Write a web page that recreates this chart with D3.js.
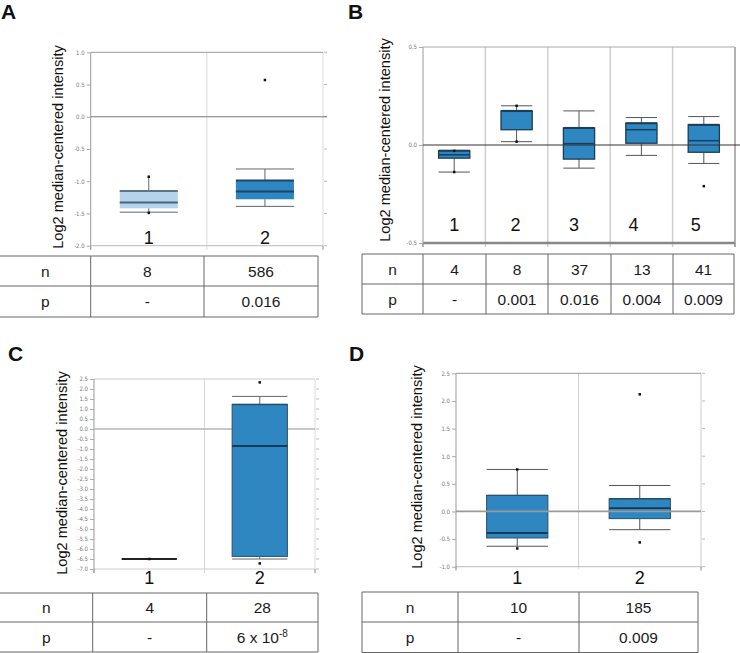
<!DOCTYPE html>
<html>
<head>
<meta charset="utf-8">
<script src="https://cdnjs.cloudflare.com/ajax/libs/d3/7.8.5/d3.min.js"></script>
<style>
  html, body { margin: 0; padding: 0; background: #fff; }
  svg { display: block; font-family: "Liberation Sans", Arial, Helvetica, sans-serif; }
</style>
</head>
<body>
<svg id="chart" width="740" height="653"></svg>
<script>
// ---------- DATA ----------
const panelLetters = ["A", "B", "C", "D"];
const yAxisTitle = "Log2 median-centered intensity";
const rowHeaders = ["n", "p"];

// Panel A
const aGroups = ["1", "2"];
const aLow = [-1.48, -1.39];
const aQ1 = [-1.42, -1.28];
const aMedian = [-1.33, -1.16];
const aQ3 = [-1.15, -0.99];
const aHigh = [-0.93, -0.81];
const aPoints = [[-0.93, -1.49], [0.57]];
const aTicks = [1.0, 0.5, 0.0, -0.5, -1.0, -1.5, -2.0];
const aN = ["8", "586"];
const aP = ["-", "0.016"];

// Panel B
const bGroups = ["1", "2", "3", "4", "5"];
const bLow = [-0.138, 0.017, -0.118, -0.053, -0.094];
const bQ1 = [-0.067, 0.078, -0.072, 0.009, -0.037];
const bMedian = [-0.05, 0.172, 0.007, 0.078, 0.022];
const bQ3 = [-0.029, 0.174, 0.087, 0.111, 0.103];
const bHigh = [-0.029, 0.2, 0.174, 0.14, 0.145];
const bPoints = [[-0.03, -0.138], [0.2, 0.017], [], [], [-0.21]];
const bTicks = [0.5, 0.0, -0.5];
const bN = ["4", "8", "37", "13", "41"];
const bP = ["-", "0.001", "0.016", "0.004", "0.009"];

// Panel C
const cGroups = ["1", "2"];
const cLow = [-6.5, -6.5];
const cQ1 = [-6.5, -6.37];
const cMedian = [-6.5, -0.85];
const cQ3 = [-6.5, 1.23];
const cHigh = [-6.5, 1.63];
const cPoints = [[-6.5], [2.33, -6.72]];
const cTicks = [2.5, 2.0, 1.5, 1.0, 0.5, 0.0, -0.5, -1.0, -1.5, -2.0, -2.5, -3.0, -3.5, -4.0, -4.5, -5.0, -5.5, -6.0, -6.5, -7.0];
const cN = ["4", "28"];
const cP = ["-", "6 x 10^-8"];

// Panel D
const dGroups = ["1", "2"];
const dLow = [-0.63, -0.33];
const dQ1 = [-0.48, -0.13];
const dMedian = [-0.39, 0.06];
const dQ3 = [0.29, 0.23];
const dHigh = [0.76, 0.47];
const dPoints = [[0.76, -0.67], [2.12, -0.56]];
const dTicks = [2.5, 2.0, 1.5, 1.0, 0.5, 0.0, -0.5, -1.0];
const dN = ["10", "185"];
const dP = ["-", "0.009"];

// ---------- DRAWING ----------
const svg = d3.select("#chart");
const fmt = v => d3.format(".1f")(v).replace("\u2212", "-");

function buildBoxes(groups, low, q1, med, q3, high, pts) {
  return groups.map((g, i) => ({ g, low: low[i], q1: q1[i], med: med[i], q3: q3[i], high: high[i], pts: pts[i] }));
}

function drawPanel(cfg) {
  const g = svg.append("g");
  const x = d3.scaleBand().domain(cfg.groups).range([cfg.x0, cfg.x1]).paddingInner(0).paddingOuter(0);
  const y = d3.scaleLinear().domain(cfg.domain).range([cfg.yBot, cfg.yTop]);
  const bw = x.bandwidth() * 0.5;
  const boxes = cfg.boxes;

  // panel letter
  g.append("text").attr("x", cfg.letterX).attr("y", cfg.letterY)
    .attr("font-size", 21).attr("font-weight", "bold").attr("fill", "#111").text(cfg.letter);

  // column separators
  cfg.groups.slice(1).forEach(d => {
    g.append("line").attr("x1", x(d)).attr("x2", x(d))
      .attr("y1", cfg.yTop).attr("y2", cfg.yBot + cfg.sepExt)
      .attr("stroke", cfg.sepColor).attr("stroke-width", cfg.sepWidth);
  });
  // right border
  g.append("line").attr("x1", cfg.x1).attr("x2", cfg.x1).attr("y1", cfg.yTop).attr("y2", cfg.yBot + cfg.sepExt)
    .attr("stroke", cfg.rightColor).attr("stroke-width", cfg.sepWidth);
  // top border
  g.append("line").attr("x1", cfg.x0).attr("x2", cfg.x1).attr("y1", cfg.yTop).attr("y2", cfg.yTop)
    .attr("stroke", cfg.topColor).attr("stroke-width", 1);
  // bottom border
  g.append("line").attr("x1", cfg.x0).attr("x2", cfg.x1).attr("y1", cfg.yBot).attr("y2", cfg.yBot)
    .attr("stroke", cfg.bottomColor).attr("stroke-width", cfg.bottomWidth);
  // right ticks
  if (cfg.rightTicks) {
    cfg.ticks.forEach(t => {
      g.append("line").attr("x1", cfg.x1 + 1).attr("x2", cfg.x1 + 4).attr("y1", y(t)).attr("y2", y(t))
        .attr("stroke", "#bbb").attr("stroke-width", 1);
    });
  }
  // bottom ticks
  [cfg.x0, cfg.x1].forEach(xx => {
    g.append("line").attr("x1", xx).attr("x2", xx).attr("y1", cfg.yBot).attr("y2", cfg.yBot + 4)
      .attr("stroke", "#999").attr("stroke-width", 1);
  });

  // left axis
  const axis = d3.axisLeft(y).tickValues(cfg.ticks).tickFormat(fmt).tickSize(4).tickPadding(2);
  const ag = g.append("g").attr("transform", `translate(${cfg.x0},0)`).call(axis);
  ag.select(".domain").attr("stroke", "#999").attr("d", `M-0,${cfg.yTop}V${cfg.yBot + cfg.sepExt}`);
  ag.selectAll(".tick line").attr("stroke", "#aaa");
  ag.selectAll(".tick text").attr("font-size", 6).attr("fill", "#777")
    .attr("font-family", "'DejaVu Sans Condensed', 'Liberation Sans Narrow', sans-serif");

  // y title
  g.append("text")
    .attr("transform", `translate(${cfg.titleX},${cfg.titleY}) rotate(-90)`)
    .attr("text-anchor", "middle").attr("font-size", 14.6).attr("fill", "#111").text(yAxisTitle);

  const drawZero = () => {
    g.append("line").attr("x1", cfg.x0).attr("x2", cfg.zeroX2).attr("y1", y(0)).attr("y2", y(0))
      .attr("stroke", cfg.zeroColor).attr("stroke-width", cfg.zeroWidth);
  };
  if (!cfg.zeroOnTop) drawZero();

  // boxes
  boxes.forEach((b, i) => {
    const cx = x(b.g) + x.bandwidth() / 2;
    const fill = cfg.fills[i];
    const edge = cfg.edges[i];
    // whiskers
    if (b.high > b.q3) {
      g.append("line").attr("x1", cx).attr("x2", cx).attr("y1", y(b.q3)).attr("y2", y(b.high))
        .attr("stroke", cfg.whiskerColor).attr("stroke-width", 1);
      if (!(cfg.noCapHigh || []).includes(i)) {
        g.append("line").attr("x1", cx - bw / 2).attr("x2", cx + bw / 2).attr("y1", y(b.high)).attr("y2", y(b.high))
          .attr("stroke", cfg.whiskerColor).attr("stroke-width", 1);
      }
    }
    if (b.low < b.q1) {
      g.append("line").attr("x1", cx).attr("x2", cx).attr("y1", y(b.q1)).attr("y2", y(b.low))
        .attr("stroke", cfg.whiskerColor).attr("stroke-width", 1);
      g.append("line").attr("x1", cx - bw / 2).attr("x2", cx + bw / 2).attr("y1", y(b.low)).attr("y2", y(b.low))
        .attr("stroke", cfg.whiskerColor).attr("stroke-width", 1);
    }
    // box
    if (b.q3 > b.q1) {
      g.append("rect").attr("x", cx - bw / 2).attr("y", y(b.q3)).attr("width", bw).attr("height", y(b.q1) - y(b.q3))
        .attr("fill", fill).attr("stroke", cfg.sideEdge ? edge : "none").attr("stroke-width", cfg.edgeWidth);
      g.append("line").attr("x1", cx - bw / 2).attr("x2", cx + bw / 2).attr("y1", y(b.q3)).attr("y2", y(b.q3))
        .attr("stroke", edge).attr("stroke-width", cfg.topEdgeWidth);
    }
    // median
    g.append("line").attr("x1", cx - bw / 2).attr("x2", cx + bw / 2).attr("y1", y(b.med)).attr("y2", y(b.med))
      .attr("stroke", cfg.medianColors[i]).attr("stroke-width", cfg.medianWidth);
    // points
    b.pts.forEach(p => {
      g.append("rect").attr("x", cx - 1.25).attr("y", y(p) - 1.25).attr("width", 2.5).attr("height", 2.5).attr("fill", "#111");
    });
  });

  if (cfg.zeroOnTop) drawZero();

  // category labels
  cfg.groups.forEach((d, i) => {
    g.append("text").attr("x", x(d) + x.bandwidth() / 2 + (cfg.labelShift ? cfg.labelShift[i] : 0))
      .attr("y", cfg.catY).attr("text-anchor", "middle").attr("font-size", 18).attr("fill", "#111").text(d);
  });

  // table
  const t = cfg.table;
  const tg = g.append("g");
  const lc = "#666";
  t.rows.forEach(ry => {
    tg.append("line").attr("x1", t.cols[0]).attr("x2", t.cols[t.cols.length - 1]).attr("y1", ry).attr("y2", ry)
      .attr("stroke", lc).attr("stroke-width", 1);
  });
  t.cols.forEach((cxl, i) => {
    if (i === 0 && !t.leftBorder) return;
    tg.append("line").attr("x1", cxl).attr("x2", cxl).attr("y1", t.rows[0]).attr("y2", t.rows[t.rows.length - 1])
      .attr("stroke", lc).attr("stroke-width", 1);
  });
  const rowsData = [cfg.n, cfg.p];
  rowsData.forEach((vals, r) => {
    const cyMid = (t.rows[r] + t.rows[r + 1]) / 2;
    const cells = [rowHeaders[r]].concat(vals);
    cells.forEach((txt, c) => {
      const cxm = (t.cols[c] + t.cols[c + 1]) / 2;
      const te = tg.append("text").attr("x", cxm).attr("y", cyMid + 5.6).attr("text-anchor", "middle")
        .attr("font-size", 15.5).attr("fill", "#1a1a1a");
      if (txt.includes("^")) {
        const [base, sup] = txt.split("^");
        te.append("tspan").text(base);
        te.append("tspan").attr("dy", -6).attr("font-size", 10).text(sup);
      } else {
        te.text(txt);
      }
    });
  });
}

const mainFill = "#2e87c0";
const mainEdge = "#1a3d58";

drawPanel({
  letter: panelLetters[0], letterX: 1, letterY: 19,
  groups: aGroups, boxes: buildBoxes(aGroups, aLow, aQ1, aMedian, aQ3, aHigh, aPoints),
  x0: 90.7, x1: 323, yTop: 52.3, yBot: 245.7, domain: [-2, 1], ticks: aTicks,
  sepColor: "#d8d8d8", sepWidth: 1, sepExt: 4, rightColor: "#dcdcdc", topColor: "#999", bottomColor: "#bbb", bottomWidth: 1,
  rightTicks: true, titleX: 63, titleY: 147,
  zeroColor: "#777", zeroWidth: 1, zeroX2: 327, zeroOnTop: false,
  fills: ["#b5d3ea", mainFill], edges: ["#5b7589", "#1d4566"], sideEdge: false, edgeWidth: 1, topEdgeWidth: 2,
  medianColors: ["#4a6579", "#1d4566"], medianWidth: 2, whiskerColor: "#666", noCapHigh: [0],
  catY: 244,
  n: aN, p: aP,
  table: { cols: [0, 90.7, 204, 318], rows: [256, 286, 317], leftBorder: false }
});

drawPanel({
  letter: panelLetters[1], letterX: 348, letterY: 19,
  groups: bGroups, boxes: buildBoxes(bGroups, bLow, bQ1, bMedian, bQ3, bHigh, bPoints),
  x0: 423, x1: 735, yTop: 47, yBot: 243, domain: [-0.5, 0.5], ticks: bTicks,
  sepColor: "#cfcfcf", sepWidth: 1.5, sepExt: 4, rightColor: "#999", topColor: "#aaa", bottomColor: "#888", bottomWidth: 2.5,
  rightTicks: false, titleX: 390, titleY: 140,
  zeroColor: "#333", zeroWidth: 1, zeroX2: 740, zeroOnTop: true,
  fills: [mainFill, mainFill, mainFill, mainFill, mainFill], edges: [mainEdge, mainEdge, mainEdge, mainEdge, mainEdge],
  sideEdge: true, edgeWidth: 1.3, topEdgeWidth: 2,
  medianColors: [mainEdge, mainEdge, mainEdge, mainEdge, mainEdge], medianWidth: 1.5, whiskerColor: "#555",
  catY: 231, labelShift: [0, -1, -5, -8, -8],
  n: bN, p: bP,
  table: { cols: [362, 423, 486, 548, 611, 673, 734], rows: [254, 284, 314], leftBorder: true }
});

drawPanel({
  letter: panelLetters[2], letterX: 8, letterY: 361,
  groups: cGroups, boxes: buildBoxes(cGroups, cLow, cQ1, cMedian, cQ3, cHigh, cPoints),
  x0: 94, x1: 315, yTop: 379, yBot: 569, domain: [-7, 2.5], ticks: cTicks,
  sepColor: "#d8d8d8", sepWidth: 1, sepExt: 4, rightColor: "#dcdcdc", topColor: "#ccc", bottomColor: "#ccc", bottomWidth: 1,
  rightTicks: true, titleX: 67, titleY: 473,
  zeroColor: "#b5b5b5", zeroWidth: 1.5, zeroX2: 315, zeroOnTop: false,
  fills: [mainFill, mainFill], edges: [mainEdge, "#2b4f6a"], sideEdge: true, edgeWidth: 1, topEdgeWidth: 1.5,
  medianColors: ["#222", "#173a55"], medianWidth: 2, whiskerColor: "#666",
  catY: 584,
  n: cN, p: cP,
  table: { cols: [0, 92.7, 206.7, 318], rows: [593, 622, 652], leftBorder: false }
});

drawPanel({
  letter: panelLetters[3], letterX: 349, letterY: 361,
  groups: dGroups, boxes: buildBoxes(dGroups, dLow, dQ1, dMedian, dQ3, dHigh, dPoints),
  x0: 456, x1: 701, yTop: 373.3, yBot: 566.7, domain: [-1, 2.5], ticks: dTicks,
  sepColor: "#cfcfcf", sepWidth: 1, sepExt: 2, rightColor: "#ccc", topColor: "#999", bottomColor: "#bbb", bottomWidth: 1,
  rightTicks: true, titleX: 422, titleY: 467,
  zeroColor: "#9a9a9a", zeroWidth: 1.8, zeroX2: 701, zeroOnTop: true,
  fills: [mainFill, mainFill], edges: ["#2b4f6a", "#2b4f6a"], sideEdge: true, edgeWidth: 1, topEdgeWidth: 1.3,
  medianColors: ["#173a55", "#173a55"], medianWidth: 1.8, whiskerColor: "#555",
  catY: 584,
  n: dN, p: dP,
  table: { cols: [362, 458, 579, 698], rows: [592, 622, 652.5], leftBorder: true }
});
</script>
</body>
</html>
